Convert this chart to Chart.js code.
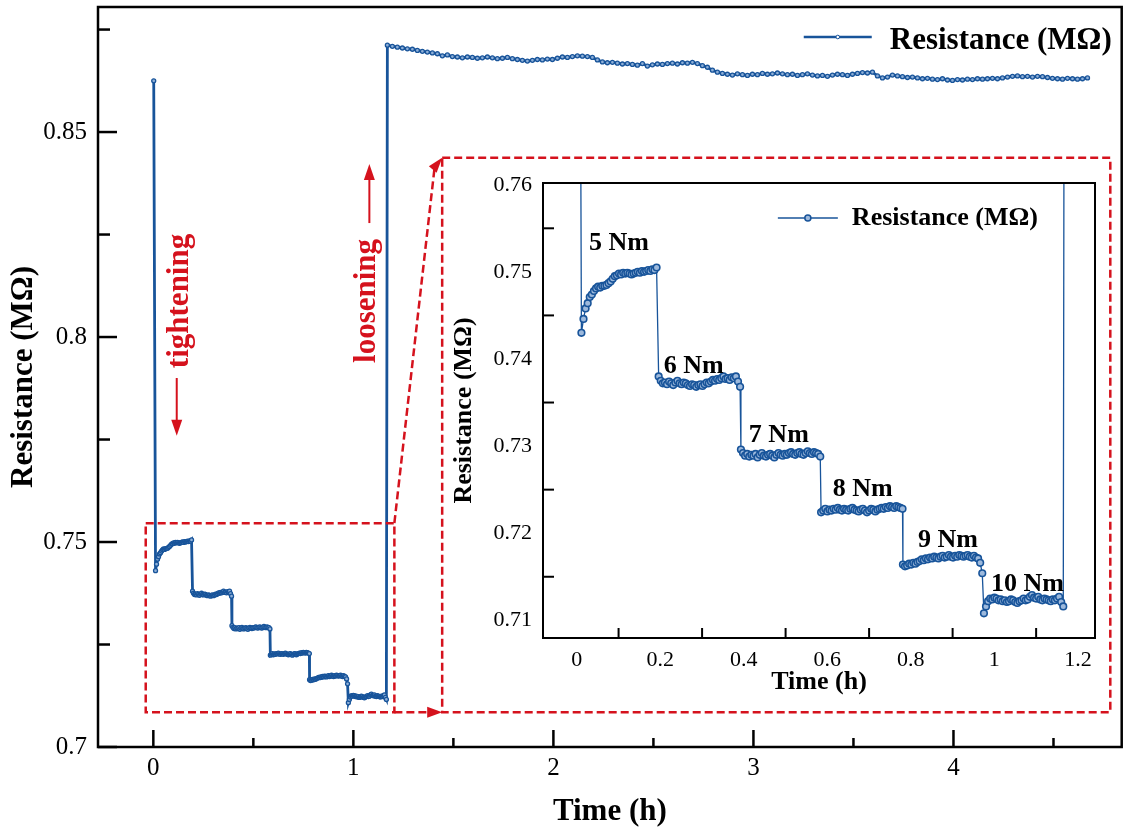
<!DOCTYPE html>
<html>
<head>
<meta charset="utf-8">
<script src="https://cdn.jsdelivr.net/npm/chart.js@4.4.1/dist/chart.umd.min.js"></script>
<style>
  body { margin: 0; background: #fff; }
  #wrap { position: relative; width: 1127px; height: 831px; }
  #mainChart { position: absolute; left: 0; top: 0; width: 1127px; height: 831px; }
  #insetChart { position: absolute; left: 446px; top: 170px; width: 655px; height: 530px; }
</style>
</head>
<body>
<div id="wrap">
  <canvas id="mainChart" width="1127" height="831"></canvas>
  <canvas id="insetChart" width="655" height="530"></canvas>
</div>
<script>
// ----------------------------------------------- data ---------------------------------------------------
const seriesLabel = "Resistance (MΩ)";
const initialTime = 0.002;
const initialValue = 0.8625;

// tightening steps, logged every 0.005 h
const sampleStep = 0.005;
const torqueLabels = ["5 Nm", "6 Nm", "7 Nm", "8 Nm", "9 Nm", "10 Nm"];
const stepStart = [0.011, 0.196, 0.393, 0.585, 0.781, 0.975];
const step5 = [
    0.7430, 0.7446, 0.7458, 0.7464, 0.7471, 0.7474, 0.7478, 0.7481, 0.7483, 0.7482,
    0.7484, 0.7484, 0.7485, 0.7487, 0.7489, 0.7492, 0.7495, 0.7496, 0.7498, 0.7497,
    0.7499, 0.7498, 0.7499, 0.7498, 0.7497, 0.7498, 0.7499, 0.7500, 0.7499, 0.7501,
    0.7500, 0.7501, 0.7502, 0.7501, 0.7503, 0.7502, 0.7505
];
const step6 = [
    0.7380, 0.7375, 0.7372, 0.7373, 0.7371, 0.7374, 0.7372, 0.7370, 0.7373, 0.7375,
    0.7372, 0.7371, 0.7373, 0.7372, 0.7370, 0.7369, 0.7371, 0.7370, 0.7368, 0.7370,
    0.7371, 0.7369, 0.7371, 0.7373, 0.7372, 0.7374, 0.7376, 0.7375, 0.7377, 0.7376,
    0.7378, 0.7380, 0.7377, 0.7378, 0.7376, 0.7379, 0.7378, 0.7380, 0.7374, 0.7368
];
const step7 = [
    0.7296, 0.7292, 0.7289, 0.7291, 0.7288, 0.7290, 0.7289, 0.7291, 0.7287, 0.7290,
    0.7292, 0.7289, 0.7288, 0.7290, 0.7291, 0.7289, 0.7287, 0.7290, 0.7292, 0.7290,
    0.7289, 0.7291, 0.7290, 0.7292, 0.7293, 0.7291, 0.7290, 0.7292, 0.7293, 0.7291,
    0.7290, 0.7292, 0.7294, 0.7292, 0.7291, 0.7293, 0.7292, 0.7291, 0.7288
];
const step8 = [
    0.7224, 0.7226, 0.7228, 0.7225, 0.7227, 0.7226, 0.7228, 0.7227, 0.7229, 0.7227,
    0.7226, 0.7228, 0.7227, 0.7226, 0.7228, 0.7229, 0.7227, 0.7226, 0.7225, 0.7227,
    0.7228, 0.7226, 0.7224, 0.7226, 0.7228, 0.7227, 0.7225, 0.7227, 0.7228, 0.7229,
    0.7228, 0.7230, 0.7229, 0.7231, 0.7230, 0.7229, 0.7231, 0.7230, 0.7229, 0.7228
];
const step9 = [
    0.7164, 0.7162, 0.7163, 0.7165, 0.7164, 0.7166, 0.7165, 0.7167, 0.7168, 0.7170,
    0.7169, 0.7171, 0.7170, 0.7172, 0.7171, 0.7173, 0.7172, 0.7171, 0.7173, 0.7174,
    0.7172, 0.7173, 0.7175, 0.7173, 0.7172, 0.7174, 0.7173, 0.7175, 0.7174, 0.7173,
    0.7174, 0.7175, 0.7173, 0.7172, 0.7174, 0.7172, 0.7171, 0.7166, 0.7154
];
const step10 = [
    0.7108, 0.7116, 0.7122, 0.7125, 0.7124, 0.7126, 0.7125, 0.7123, 0.7124, 0.7122,
    0.7123, 0.7121, 0.7122, 0.7124, 0.7123, 0.7121, 0.7120, 0.7122, 0.7123, 0.7125,
    0.7123, 0.7124, 0.7127, 0.7129, 0.7126, 0.7125, 0.7127, 0.7124, 0.7123, 0.7125,
    0.7124, 0.7123, 0.7122, 0.7124, 0.7123, 0.7125, 0.7127, 0.7121, 0.7116
];
const stepValues = [step5, step6, step7, step8, step9, step10];

// after loosening, logged every 0.025 h
const driftStart = 1.17;
const driftStep = 0.025;
const driftValues = [
    0.8712, 0.8709, 0.8707, 0.8705, 0.8703, 0.8702, 0.8699, 0.8697, 0.8695, 0.8693,
    0.8691, 0.8686, 0.8688, 0.8684, 0.8683, 0.8681, 0.8683, 0.8682, 0.8680, 0.8681,
    0.8683, 0.8681, 0.8679, 0.8680, 0.8682, 0.8679, 0.8677, 0.8675, 0.8673, 0.8675,
    0.8677, 0.8676, 0.8678, 0.8677, 0.8680, 0.8683, 0.8682, 0.8684, 0.8686, 0.8685,
    0.8684, 0.8682, 0.8676, 0.8671, 0.8669, 0.8670, 0.8668, 0.8666, 0.8667, 0.8665,
    0.8663, 0.8667, 0.8661, 0.8664, 0.8666, 0.8665, 0.8667, 0.8668, 0.8666, 0.8669,
    0.8668, 0.8670, 0.8667, 0.8662, 0.8658, 0.8651, 0.8646, 0.8643, 0.8641, 0.8639,
    0.8642, 0.8640, 0.8638, 0.8641, 0.8640, 0.8643, 0.8641, 0.8642, 0.8644, 0.8642,
    0.8640, 0.8641, 0.8638, 0.8640, 0.8642, 0.8639, 0.8637, 0.8638, 0.8636, 0.8639,
    0.8641, 0.8640, 0.8638, 0.8641, 0.8643, 0.8645, 0.8644, 0.8646, 0.8637, 0.8632,
    0.8634, 0.8639, 0.8637, 0.8635, 0.8633, 0.8634, 0.8632, 0.8630, 0.8631, 0.8629,
    0.8628, 0.8630, 0.8627, 0.8626, 0.8628, 0.8627, 0.8629, 0.8628, 0.8630, 0.8629,
    0.8630, 0.8631, 0.8630, 0.8632, 0.8634, 0.8636, 0.8637, 0.8635, 0.8636, 0.8634,
    0.8636, 0.8635, 0.8633, 0.8631, 0.8630, 0.8629, 0.8631, 0.8630, 0.8629, 0.8630,
    0.8632
];

// axis ticks
const mainXTicks = [0, 1, 2, 3, 4];
const mainXMinor = [0.5, 1.5, 2.5, 3.5, 4.5];
const mainYTicks = [0.7, 0.75, 0.8, 0.85];
const mainYMinor = [0.725, 0.775, 0.825, 0.875];
const insetXTicks = [0, 0.2, 0.4, 0.6, 0.8, 1, 1.2];
const insetXMarks = [0.1, 0.3, 0.5, 0.7, 0.9, 1.1];
const insetYTicks = [0.71, 0.72, 0.73, 0.74, 0.75, 0.76];
const insetYMarks = [0.715, 0.725, 0.735, 0.745, 0.755];

// build the points
const resistancePoints = [{ x: initialTime, y: initialValue }];
stepValues.forEach((vals, k) => {
    vals.forEach((v, i) => resistancePoints.push({ x: stepStart[k] + i * sampleStep, y: v }));
});
driftValues.forEach((v, i) => resistancePoints.push({ x: driftStart + i * driftStep, y: v }));

//Global Options
Chart.defaults.font.family = "'Liberation Serif', 'Times New Roman', serif";
Chart.defaults.color = "#000";

const blue = "#18549a";
const red = "#d5121d";
const serif = "'Liberation Serif', 'Times New Roman', serif";

function inTicks(ctx, scale, values, len, horizontal, a) {
    values.forEach((v) => {
        const p = scale.getPixelForValue(v);
        ctx.beginPath();
        if (horizontal) {
            ctx.moveTo(p, a.bottom);
            ctx.lineTo(p, a.bottom - len);
        } else {
            ctx.moveTo(a.left, p);
            ctx.lineTo(a.left + len, p);
        }
        ctx.stroke();
    });
}

function arrowHead(ctx, x, y, angle, len, half) {
    ctx.save();
    ctx.translate(x, y);
    ctx.rotate(angle);
    ctx.beginPath();
    ctx.moveTo(0, 0);
    ctx.lineTo(-len, -half);
    ctx.lineTo(-len, half);
    ctx.closePath();
    ctx.fill();
    ctx.restore();
}

// no label overhang padding, the plot box is set by the layout padding
function noOverhang(s) {
    s.paddingTop = 0;
    s.paddingBottom = 0;
    s.paddingLeft = 0;
    s.paddingRight = 0;
}

// -----------------------------------------------Main chart decorations---------------------------------------------
const mainDecor = {
    id: "mainDecor",
    afterDraw(chart) {
        const { ctx, chartArea: a, scales: { x, y } } = chart;
        ctx.save();
        // frame + inward ticks
        ctx.strokeStyle = "#000";
        ctx.lineWidth = 2.5;
        ctx.setLineDash([]);
        ctx.strokeRect(a.left, a.top, a.right - a.left, a.bottom - a.top);
        inTicks(ctx, x, mainXTicks, 17, true, a);
        inTicks(ctx, x, mainXMinor, 9, true, a);
        inTicks(ctx, y, mainYTicks, 19, false, a);
        inTicks(ctx, y, mainYMinor, 12, false, a);

        // legend
        ctx.font = "bold 31px " + serif;
        ctx.textAlign = "right";
        ctx.textBaseline = "alphabetic";
        ctx.fillStyle = "#000";
        const tx = a.right - 10;
        ctx.fillText(seriesLabel, tx, 49);
        const tw = ctx.measureText(seriesLabel).width;
        const lx1 = tx - tw - 18, lx0 = lx1 - 68;
        ctx.strokeStyle = blue;
        ctx.lineWidth = 2.5;
        ctx.beginPath(); ctx.moveTo(lx0, 37); ctx.lineTo(lx1, 37); ctx.stroke();
        ctx.fillStyle = "#fff"; ctx.lineWidth = 1;
        ctx.beginPath(); ctx.arc((lx0 + lx1) / 2, 37, 1.8, 0, Math.PI * 2); ctx.fill(); ctx.stroke();

        // dashed zoom boxes and connectors
        ctx.strokeStyle = red;
        ctx.fillStyle = red;
        ctx.lineWidth = 2.5;
        ctx.setLineDash([8, 4]);
        const zb = { x0: x.getPixelForValue(-0.038), x1: x.getPixelForValue(1.205), y0: y.getPixelForValue(0.7546), y1: y.getPixelForValue(0.7085) };
        const ib = { x0: x.getPixelForValue(1.444), x1: x.getPixelForValue(4.784), y0: y.getPixelForValue(0.8437), y1: y.getPixelForValue(0.7085) };
        ctx.strokeRect(zb.x0, zb.y0, zb.x1 - zb.x0, zb.y1 - zb.y0);
        ctx.strokeRect(ib.x0, ib.y0, ib.x1 - ib.x0, ib.y1 - ib.y0);
        // top connector
        const ang = Math.atan2(ib.y0 - zb.y0, ib.x0 - zb.x0);
        ctx.beginPath();
        ctx.moveTo(zb.x1, zb.y0);
        ctx.lineTo(ib.x0 - 12 * Math.cos(ang), ib.y0 - 12 * Math.sin(ang));
        ctx.stroke();
        ctx.setLineDash([]);
        arrowHead(ctx, ib.x0, ib.y0, ang, 15, 5);
        // bottom connector
        ctx.setLineDash([8, 4]);
        ctx.beginPath();
        ctx.moveTo(zb.x1, zb.y1);
        ctx.lineTo(ib.x0 - 12, ib.y1);
        ctx.stroke();
        ctx.setLineDash([]);
        arrowHead(ctx, ib.x0, ib.y1, 0, 15, 5.5);

        // tightening / loosening notes
        ctx.font = "bold 31px " + serif;
        ctx.textAlign = "center";
        ctx.textBaseline = "middle";
        [["tightening", 0.131], ["loosening", 1.070]].forEach(([txt, t]) => {
            ctx.save();
            ctx.translate(x.getPixelForValue(t), y.getPixelForValue(0.8088));
            ctx.rotate(-Math.PI / 2);
            ctx.fillText(txt, 0, 0);
            ctx.restore();
        });
        ctx.lineWidth = 2;
        // down arrow under "tightening"
        const ax1 = x.getPixelForValue(0.117);
        ctx.beginPath(); ctx.moveTo(ax1, y.getPixelForValue(0.79)); ctx.lineTo(ax1, y.getPixelForValue(0.7759) - 12); ctx.stroke();
        arrowHead(ctx, ax1, y.getPixelForValue(0.7759), Math.PI / 2, 16, 5.5);
        // up arrow above "loosening"
        const ax2 = x.getPixelForValue(1.08);
        ctx.beginPath(); ctx.moveTo(ax2, y.getPixelForValue(0.8278)); ctx.lineTo(ax2, y.getPixelForValue(0.8422) + 12); ctx.stroke();
        arrowHead(ctx, ax2, y.getPixelForValue(0.8422), -Math.PI / 2, 16, 5.5);
        ctx.restore();
    },
};

//config
const mainConfig = {
    type: "line",
    data: {
        datasets: [
            {
                label: seriesLabel,
                data: resistancePoints,
                borderColor: blue,
                borderWidth: 2.8,
                pointRadius: 2,
                pointBorderWidth: 1.3,
                pointBorderColor: blue,
                pointBackgroundColor: "#8fb0d8",
                tension: 0,
            },
        ],
    },
    options: {
        responsive: false,
        animation: false,
        events: [],
        layout: { padding: { top: 7, right: 4, left: 0, bottom: 0 } },
        scales: {
            x: {
                type: "linear",
                min: -0.2766,
                max: 4.841,
                grid: { display: false, drawTicks: false },
                border: { display: false },
                afterBuildTicks: (s) => { s.ticks = mainXTicks.map((v) => ({ value: v })); },
                afterFit: (s) => { s.height = 84; noOverhang(s); },
                ticks: { autoSkip: false, maxRotation: 0, padding: 6, font: { size: 25 }, callback: (v) => String(v) },
                title: { display: true, text: "Time (h)", font: { size: 31, weight: "bold" }, padding: { top: 0, bottom: 0 } },
            },
            y: {
                type: "linear",
                min: 0.7,
                max: 0.8805,
                grid: { display: false, drawTicks: false },
                border: { display: false },
                afterBuildTicks: (s) => { s.ticks = mainYTicks.map((v) => ({ value: v })); },
                afterFit: (s) => { s.width = 98; noOverhang(s); },
                ticks: { autoSkip: false, padding: 11, font: { size: 25 }, callback: (v) => String(v) },
                title: { display: true, text: seriesLabel, font: { size: 31, weight: "bold" }, padding: { top: 5, bottom: 0 } },
            },
        },
        plugins: { legend: { display: false }, tooltip: { enabled: false } },
    },
    plugins: [mainDecor],
};

//render init block
const mainChart = new Chart(document.getElementById("mainChart").getContext("2d"), mainConfig);

// -----------------------------------------------Inset chart---------------------------------------------------
const torquePos = [[0.029, 0.7525], [0.208, 0.7384], [0.412, 0.7305], [0.613, 0.7243], [0.817, 0.7184], [0.992, 0.7134]];

const insetDecor = {
    id: "insetDecor",
    afterDraw(chart) {
        const { ctx, chartArea: a, scales: { x, y } } = chart;
        ctx.save();
        ctx.strokeStyle = "#000";
        ctx.lineWidth = 2;
        ctx.strokeRect(a.left, a.top, a.right - a.left, a.bottom - a.top);
        inTicks(ctx, x, insetXMarks, 10, true, a);
        inTicks(ctx, y, insetYMarks, 11, false, a);

        // legend
        ctx.font = "bold 26px " + serif;
        ctx.textAlign = "right";
        ctx.textBaseline = "alphabetic";
        ctx.fillStyle = "#000";
        const tx = a.right - 57;
        ctx.fillText(seriesLabel, tx, a.top + 42);
        const tw = ctx.measureText(seriesLabel).width;
        const lx1 = tx - tw - 14, lx0 = lx1 - 60, ly = a.top + 35;
        ctx.strokeStyle = blue;
        ctx.lineWidth = 1.5;
        ctx.beginPath(); ctx.moveTo(lx0, ly); ctx.lineTo(lx1, ly); ctx.stroke();
        ctx.fillStyle = "#9db9dc";
        ctx.beginPath(); ctx.arc((lx0 + lx1) / 2, ly, 3, 0, Math.PI * 2); ctx.fill(); ctx.stroke();

        // torque labels
        ctx.fillStyle = "#000";
        ctx.textAlign = "left";
        torqueLabels.forEach((lab, i) => {
            ctx.fillText(lab, x.getPixelForValue(torquePos[i][0]), y.getPixelForValue(torquePos[i][1]));
        });
        ctx.restore();
    },
};

const insetConfig = {
    type: "line",
    data: {
        datasets: [
            {
                label: seriesLabel,
                data: resistancePoints,
                borderColor: blue,
                borderWidth: 1.3,
                pointRadius: 3.3,
                pointBorderWidth: 1.6,
                pointBorderColor: blue,
                pointBackgroundColor: "#9db9dc",
                tension: 0,
            },
        ],
    },
    options: {
        responsive: false,
        animation: false,
        events: [],
        layout: { padding: { top: 13, right: 6, left: 0, bottom: 0 } },
        scales: {
            x: {
                type: "linear",
                min: -0.081,
                max: 1.241,
                grid: { display: false, drawTicks: false },
                border: { display: false },
                afterBuildTicks: (s) => { s.ticks = insetXTicks.map((v) => ({ value: v })); },
                afterFit: (s) => { s.height = 62; noOverhang(s); },
                ticks: { autoSkip: false, maxRotation: 0, padding: 9, font: { size: 22 }, callback: (v) => String(v) },
                title: { display: true, text: "Time (h)", font: { size: 26, weight: "bold" }, padding: { top: 0, bottom: 2 } },
            },
            y: {
                type: "linear",
                min: 0.70797,
                max: 0.7602,
                grid: { display: false, drawTicks: false },
                border: { display: false },
                afterBuildTicks: (s) => { s.ticks = insetYTicks.map((v) => ({ value: v })); },
                afterFit: (s) => { s.width = 97; noOverhang(s); },
                ticks: { autoSkip: false, padding: 11, font: { size: 22 }, callback: (v) => String(v) },
                title: { display: true, text: seriesLabel, font: { size: 26, weight: "bold" }, padding: { top: 3, bottom: 0 } },
            },
        },
        plugins: { legend: { display: false }, tooltip: { enabled: false } },
    },
    plugins: [insetDecor],
};

const insetChart = new Chart(document.getElementById("insetChart").getContext("2d"), insetConfig);
</script>
</body>
</html>
